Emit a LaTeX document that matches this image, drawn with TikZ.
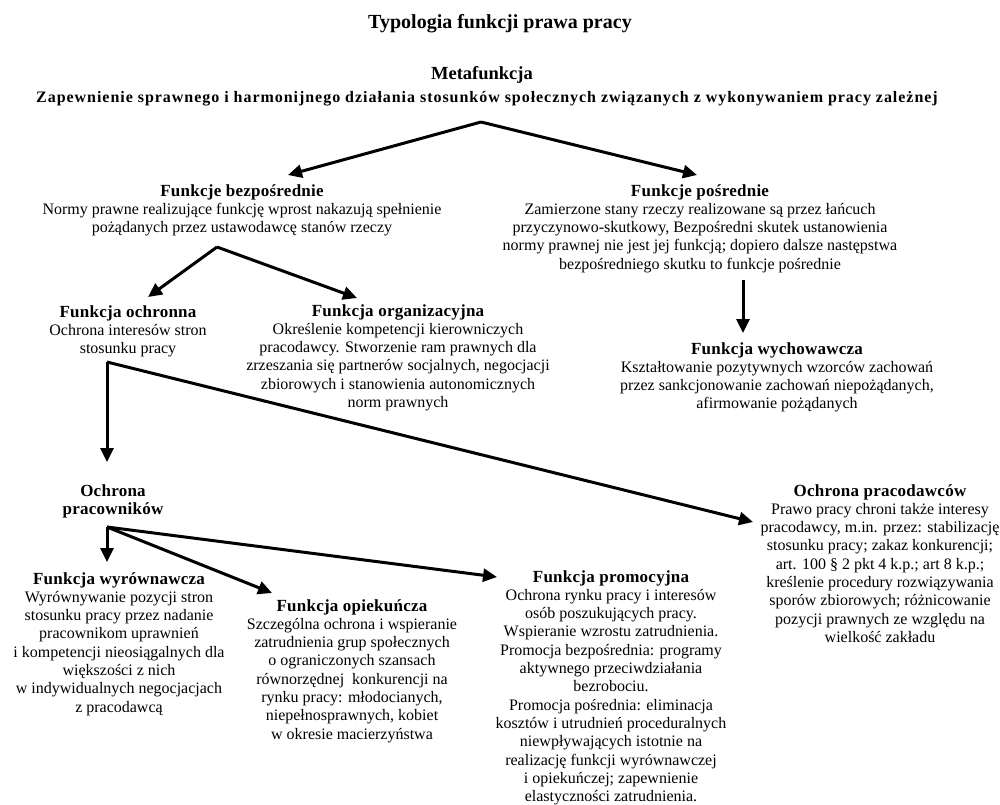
\documentclass[tikz,border=0pt]{standalone}
\usepackage{fontspec}
\setmainfont{Liberation Serif}
\usetikzlibrary{arrows.meta}
\newcommand{\hd}[1]{{\fontsize{17}{18.3}\selectfont\bfseries\addfontfeatures{LetterSpace=1.5}#1}}
\begin{document}
\begin{tikzpicture}[x=1pt,y=-1pt,
  txt/.style={align=center, inner sep=0pt, anchor=north, font=\fontsize{16}{18.3}\selectfont},
  arr/.style={line width=3pt, -{Triangle[length=14pt,width=13pt]}}]
\useasboundingbox (0,0) rectangle (1000,804);

\node[txt, font=\fontsize{20}{24}\selectfont\bfseries] (title) at (500,14) {Typologia funkcji prawa pracy};
\node[txt, font=\fontsize{18.5}{24}\selectfont\bfseries] (meta) at (482,66) {Metafunkcja};
\node[txt, font=\fontsize{16}{19}\selectfont\bfseries\addfontfeatures{LetterSpace=6}] (metad) at (487,91) {Zapewnienie sprawnego i harmonijnego działania stosunków społecznych związanych z wykonywaniem pracy zależnej};

\node[txt] (bezp) at (242,184) {\hd{Funkcje bezpośrednie}\\Normy prawne realizujące funkcję wprost nakazują spełnienie\\pożądanych przez ustawodawcę stanów rzeczy};
\node[txt] (posr) at (700,184) {\hd{Funkcje pośrednie}\\Zamierzone stany rzeczy realizowane są przez łańcuch\\przyczynowo-skutkowy, Bezpośredni skutek ustanowienia\\normy prawnej nie jest jej funkcją; dopiero dalsze następstwa\\bezpośredniego skutku to funkcje pośrednie};
\node[txt] (ochr) at (128,305) {\hd{Funkcja ochronna}\\Ochrona interesów stron\\stosunku pracy};
\node[txt] (org) at (398,304) {\hd{Funkcja organizacyjna}\\Określenie kompetencji kierowniczych\\pracodawcy. Stworzenie ram prawnych dla\\zrzeszania się partnerów socjalnych, negocjacji\\zbiorowych i stanowienia autonomicznych\\norm prawnych};
\node[txt] (wych) at (777,342) {\hd{Funkcja wychowawcza}\\Kształtowanie pozytywnych wzorców zachowań\\przez sankcjonowanie zachowań niepożądanych,\\afirmowanie pożądanych};
\node[txt] (prac) at (113,484) {\hd{Ochrona}\\\hd{pracowników}};
\node[txt] (pracod) at (880,484) {\hd{Ochrona pracodawców}\\Prawo pracy chroni także interesy\\pracodawcy, m.in. przez: stabilizację\\stosunku pracy; zakaz konkurencji;\\art. 100 § 2 pkt 4 k.p.; art 8 k.p.;\\kreślenie procedury rozwiązywania\\sporów zbiorowych; różnicowanie\\pozycji prawnych ze względu na\\wielkość zakładu};
\node[txt] (wyr) at (119,572) {\hd{Funkcja wyrównawcza}\\Wyrównywanie pozycji stron\\stosunku pracy przez nadanie\\pracownikom uprawnień\\i kompetencji nieosiągalnych dla\\większości z nich\\w indywidualnych negocjacjach\\z pracodawcą};
\node[txt] (opiek) at (352,599) {\hd{Funkcja opiekuńcza}\\Szczególna ochrona i wspieranie\\zatrudnienia grup społecznych\\o ograniczonych szansach\\równorzędnej\ \ konkurencji na\\rynku pracy: młodocianych,\\niepełnosprawnych, kobiet\\w okresie macierzyństwa};
\node[txt] (promo) at (611,570) {\hd{Funkcja promocyjna}\\Ochrona rynku pracy i interesów\\osób poszukujących pracy.\\Wspieranie wzrostu zatrudnienia.\\Promocja bezpośrednia: programy\\aktywnego przeciwdziałania\\bezrobociu.\\Promocja pośrednia: eliminacja\\kosztów i utrudnień proceduralnych\\niewpływających istotnie na\\realizację funkcji wyrównawczej\\i opiekuńczej; zapewnienie\\elastyczności zatrudnienia.};

\coordinate (mA) at (481,122);
\coordinate (bT) at (288,175);
\coordinate (pT) at (697,175);
\coordinate (bA) at (217,247);
\coordinate (ochT) at (148,297);
\coordinate (orgT) at (357,298);
\coordinate (oA) at (107,362);
\coordinate (prT) at (107,462);
\coordinate (pdT) at (753,522);
\coordinate (pA) at (743,280);
\coordinate (wT) at (743,333);
\coordinate (kA) at (107,527);
\coordinate (wyT) at (107,562);
\coordinate (opT) at (272,593);
\coordinate (proT) at (497,577);

\draw[arr] (mA) -- (bT);
\draw[arr] (mA) -- (pT);
\draw[arr] (bA) -- (ochT);
\draw[arr] (bA) -- (orgT);
\draw[arr] (oA) -- (prT);
\draw[arr] (oA) -- (pdT);
\draw[arr] (pA) -- (wT);
\draw[arr] (kA) -- (wyT);
\draw[arr] (kA) -- (opT);
\draw[arr] (kA) -- (proT);
\end{tikzpicture}
\end{document}
